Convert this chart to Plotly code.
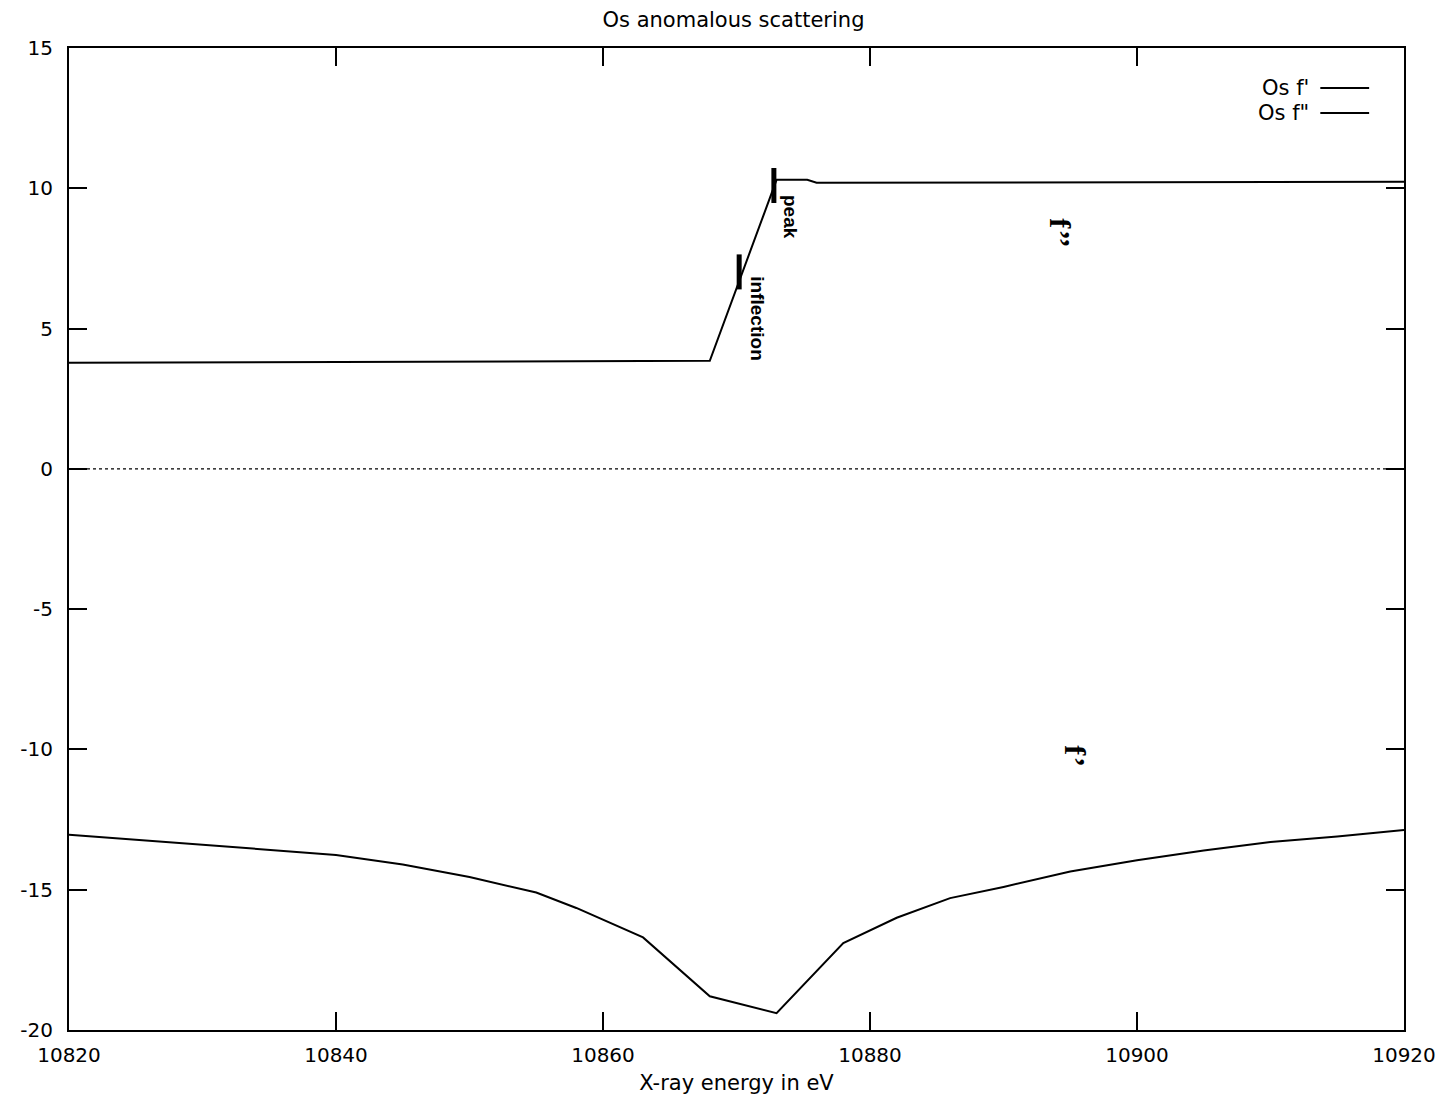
import plotly.graph_objects as go

# ---------------- data ----------------
energy_fpp = [10820, 10868, 10873, 10875.3, 10876, 10920]
f_double_prime = [3.78, 3.85, 10.30, 10.30, 10.20, 10.23]

energy_fp = [10820, 10830, 10840, 10845, 10850, 10855, 10858, 10863, 10868, 10873,
             10878, 10882, 10886, 10890, 10895, 10900, 10905, 10910, 10915, 10920]
f_prime = [-13.04, -13.40, -13.76, -14.10, -14.55, -15.10, -15.65, -16.70, -18.80, -19.40,
           -16.90, -16.00, -15.30, -14.90, -14.35, -13.95, -13.60, -13.30, -13.10, -12.87]

marker_energy = [10870.2, 10872.8]
marker_value = [7.02, 10.10]
marker_labels = ["inflection", "peak"]

x_tick_vals = [10820, 10840, 10860, 10880, 10900, 10920]
x_tick_text = ["10820", "10840", "10860", "10880", "10900", "10920"]
y_tick_vals = [-20, -15, -10, -5, 0, 5, 10, 15]
y_tick_text = ["-20", "-15", "-10", "-5", "0", "5", "10", "15"]

legend_names = ["Os f'", 'Os f"']
title_text = "Os anomalous scattering"
x_title = "X-ray energy in eV"

# ---------------- figure ----------------
FONT = "DejaVu Sans"
OFF = 8  # page body margin
FIG_W, FIG_H = 1452 - OFF, 1103 - OFF
fig = go.Figure()

# zero axis (dotted)
fig.add_trace(go.Scatter(x=[x_tick_vals[0], x_tick_vals[-1]], y=[0, 0], mode="lines",
                         line=dict(color="black", width=1.2, dash="dot"),
                         showlegend=False, hoverinfo="skip"))

fig.add_trace(go.Scatter(x=energy_fpp, y=f_double_prime, mode="lines", name=legend_names[0],
                         line=dict(color="black", width=2), showlegend=False))
fig.add_trace(go.Scatter(x=energy_fp, y=f_prime, mode="lines", name=legend_names[1],
                         line=dict(color="black", width=2), showlegend=False))

fig.add_trace(go.Scatter(x=marker_energy, y=marker_value, mode="markers",
                         marker=dict(symbol="line-ns", size=25,
                                     line=dict(color="black", width=5)),
                         showlegend=False, hoverinfo="skip"))

# plot-area pixel geometry helpers (page pixel coordinates)
L, R, T, B = 64, 1404, 48, 1030
def px(xp):
    return (xp - L) / (R - L)
def py(yp):
    return (B - yp) / (B - T)

annotations = []
annotations.append(dict(x=10874.0, y=8.98, xref="x", yref="y", text="<b>peak</b>",
                        textangle=90, showarrow=False,
                        font=dict(family="Liberation Sans", size=19, color="black")))
annotations.append(dict(x=10871.57, y=5.35, xref="x", yref="y", text="<b>inflection</b>",
                        textangle=90, showarrow=False,
                        font=dict(family="Liberation Sans", size=19, color="black")))
annotations.append(dict(x=10894.3, y=8.40, xref="x", yref="y", text="<b>f\u2019\u2019</b>",
                        textangle=90, showarrow=False,
                        font=dict(family="Liberation Serif", size=30, color="black")))
annotations.append(dict(x=10895.4, y=-10.23, xref="x", yref="y", text="<b>f\u2019</b>",
                        textangle=90, showarrow=False,
                        font=dict(family="Liberation Serif", size=30, color="black")))

# legend (gnuplot style: text right-aligned, sample line to the right)
shapes = []
for name, yp in zip(legend_names, [88, 113]):
    annotations.append(dict(x=px(1311), y=py(yp), xref="paper", yref="paper", text=name,
                            xanchor="right", yanchor="middle", showarrow=False,
                            font=dict(family=FONT, size=21, color="black")))
    shapes.append(dict(type="line", xref="paper", yref="paper",
                       x0=px(1320), x1=px(1369), y0=py(yp), y1=py(yp),
                       line=dict(color="black", width=2)))

axis_common = dict(showline=True, linecolor="black", linewidth=2, mirror="ticks",
                   ticks="inside", ticklen=18, tickwidth=2, tickcolor="black",
                   showgrid=False, zeroline=False,
                   tickfont=dict(family=FONT, size=20, color="black"))

fig.update_layout(
    width=FIG_W, height=FIG_H,
    margin=dict(l=L - OFF, r=FIG_W + OFF - R, t=T - OFF, b=FIG_H + OFF - B),
    paper_bgcolor="white", plot_bgcolor="white",
    title=dict(text=title_text, x=px(731), xref="paper", y=1 - (20 - OFF) / FIG_H,
               yref="container", xanchor="center", yanchor="middle",
               font=dict(family=FONT, size=21, color="black")),
    xaxis=dict(range=[10820, 10920], tickvals=x_tick_vals, ticktext=x_tick_text,
               ticklabelstandoff=6,
               title=dict(text=x_title, standoff=9, font=dict(family=FONT, size=21, color="black")),
               **axis_common),
    yaxis=dict(range=[-20, 15], tickvals=y_tick_vals, ticktext=y_tick_text,
               ticklabelstandoff=10, **axis_common),
    annotations=annotations,
    shapes=shapes,
    showlegend=False,
)

fig.write_html("out.html")
